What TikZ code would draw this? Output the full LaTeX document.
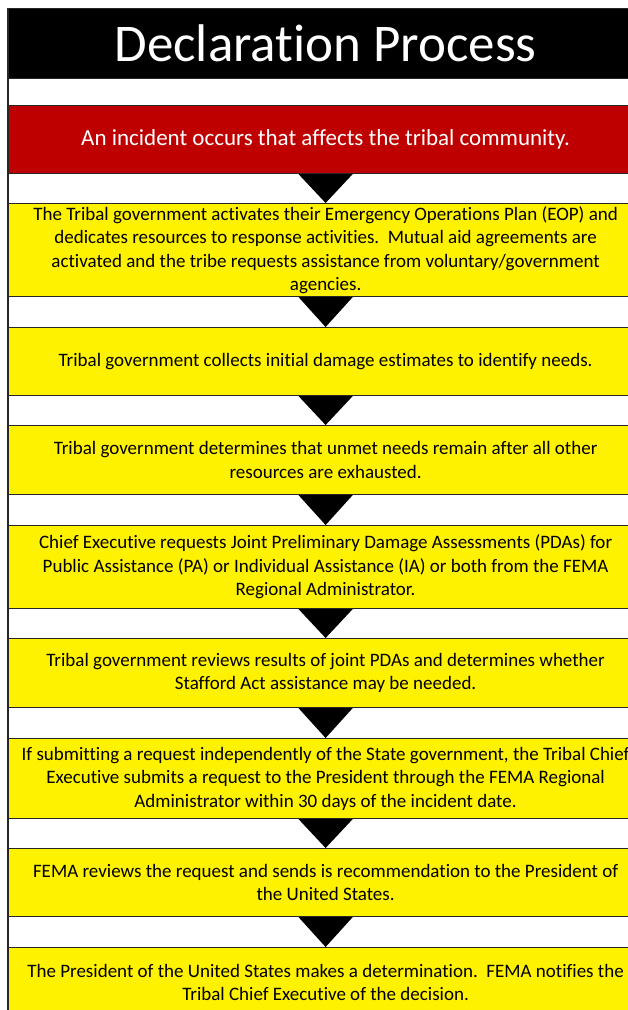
\documentclass[tikz,border=0pt]{standalone}
\usepackage{fontspec}
\setmainfont{Carlito}[Ligatures={NoCommon,NoRare,NoContextual}]
\usetikzlibrary{calc}
\begin{document}
\begin{tikzpicture}[x=1pt,y=1pt,
  row/.style={draw=black!85, line width=1.2pt, minimum width=634pt, anchor=north west, inner sep=0pt, align=center},
  ybox/.style={row, fill=yellow, text=black, font=\fontsize{19}{23.5}\selectfont},
  arrowtri/.style={fill=black}]
\useasboundingbox (0,0) rectangle (628,-1010);
\clip (0,0) rectangle (628,-1010);
\fill[white] (0,0) rectangle (628,-1010);
\draw[black!85, line width=1.2pt] (8,-8) -- (8,-1010);
\node[row, fill=black, text=white, minimum height=70pt, font=\fontsize{53}{60}\selectfont] (t) at (8,-8) {Declaration Process};
\node[row, fill=white, minimum height=27pt] (w0) at (8,-78) {};
\node[row, fill=red!75!black, text=white, minimum height=68pt, font=\fontsize{23}{27}\selectfont] (r0) at (8,-105) {An incident occurs that affects the tribal community.};
\node[ybox, minimum height=93pt] (r1) at (8,-203) {The Tribal government activates their Emergency Operations Plan (EOP) and\\dedicates resources to response activities.\ \ Mutual aid agreements are\\activated and the tribe requests assistance from voluntary/government\\agencies.};
\node[ybox, minimum height=68pt] (r2) at (8,-327) {Tribal government collects initial damage estimates to identify needs.};
\node[ybox, minimum height=69pt] (r3) at (8,-425) {Tribal government determines that unmet needs remain after all other\\resources are exhausted.};
\node[ybox, minimum height=83pt] (r4) at (8,-525) {Chief Executive requests Joint Preliminary Damage Assessments (PDAs) for\\Public Assistance (PA) or Individual Assistance (IA) or both from the FEMA\\Regional Administrator.};
\node[ybox, minimum height=69pt] (r5) at (8,-638) {Tribal government reviews results of joint PDAs and determines whether\\Stafford Act assistance may be needed.};
\node[ybox, minimum height=80pt] (r6) at (8,-738) {If submitting a request independently of the State government, the Tribal Chief\\Executive submits a request to the President through the FEMA Regional\\Administrator within 30 days of the incident date.};
\node[ybox, minimum height=68pt] (r7) at (8,-848) {FEMA reviews the request and sends is recommendation to the President of\\the United States.};
\node[ybox, minimum height=70pt] (r8) at (8,-947) {The President of the United States makes a determination.\ \ FEMA notifies the\\Tribal Chief Executive of the decision.};
\foreach \a/\b in {r0/r1,r1/r2,r2/r3,r3/r4,r4/r5,r5/r6,r6/r7,r7/r8}
  \fill[arrowtri] ($(\a.south)+(-27,0)$) -- (\b.north) -- ($(\a.south)+(27,0)$) -- cycle;
\end{tikzpicture}
\end{document}
